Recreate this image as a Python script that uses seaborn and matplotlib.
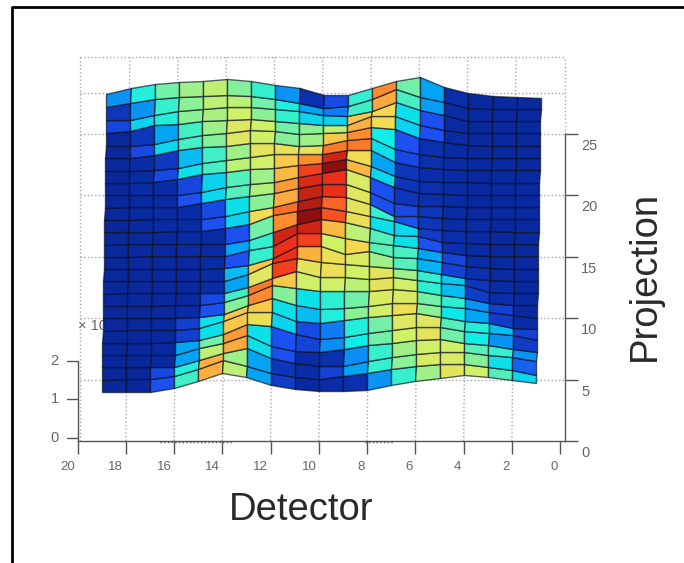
import numpy as np
import seaborn as sns
import matplotlib.pyplot as plt
from matplotlib.lines import Line2D
from matplotlib.transforms import ScaledTranslation

sns.set_style('white')
plt.rcParams['font.family'] = ['Liberation Sans', 'DejaVu Sans']

# cell values per detector column, bottom row (projection 5) to top
col_19 = [.05, .05, .05, .05, .05, .05, .05, .05, .05, .05, .05, .05, .05, .05, .05, .05, .05, .05, .05, .05, .05, .17, .12, .28]
col_18 = [.05, .05, .05, .05, .05, .05, .05, .05, .05, .05, .05, .06, .06, .06, .06, .06, .07, .07, .08, .18, .12, .36, .28, .42]
col_17 = [.2, .18, .06, .06, .06, .06, .06, .06, .06, .06, .06, .06, .06, .07, .07, .07, .07, .18, .13, .37, .3, .42, .44, .5]
col_16 = [.45, .42, .3, .3, .15, .15, .07, .06, .06, .06, .06, .07, .07, .07, .08, .2, .17, .38, .33, .46, .45, .53, .53, .55]
col_15 = [.75, .75, .58, .5, .38, .38, .2, .18, .08, .07, .07, .07, .07, .2, .18, .37, .36, .46, .45, .52, .55, .56, .58, .58]
col_14 = [.58, .55, .76, .78, .72, .72, .52, .45, .3, .33, .2, .3, .2, .36, .38, .47, .47, .58, .55, .63, .63, .6, .58, .52]
col_13 = [.3, .3, .38, .38, .67, .72, .8, .82, .63, .72, .44, .44, .5, .68, .53, .57, .55, .6, .65, .6, .6, .53, .5, .44]
col_12 = [.14, .12, .2, .2, .36, .38, .52, .72, .88, .9, .9, .93, .8, .83, .76, .78, .74, .72, .66, .52, .5, .44, .42, .28]
col_11 = [.06, .08, .08, .16, .18, .33, .38, .6, .65, .75, .88, .93, 1.0, .96, .94, .92, .88, .8, .66, .55, .53, .36, .3, .1]
col_10 = [.08, .16, .1, .27, .25, .42, .43, .6, .67, .67, .6, .74, .86, .84, .9, .9, 1.0, .93, .82, .72, .58, .36, .25, .18]
col_9 = [.1, .3, .27, .4, .42, .53, .5, .58, .6, .62, .7, .58, .67, .65, .64, .62, .74, .68, .82, .8, .75, .72, .45, .44]
col_8 = [.28, .44, .44, .5, .5, .6, .62, .65, .65, .55, .48, .47, .38, .44, .2, .2, .37, .3, .38, .4, .68, .7, .76, .8]
col_7 = [.44, .53, .55, .6, .63, .67, .62, .6, .55, .47, .46, .38, .37, .2, .18, .12, .12, .12, .18, .2, .36, .38, .46, .5]
col_6 = [.55, .62, .6, .65, .63, .53, .5, .43, .44, .32, .3, .2, .14, .12, .12, .1, .1, .09, .1, .1, .2, .2, .29, .3]
col_5 = [.65, .62, .6, .5, .47, .39, .43, .33, .35, .16, .17, .1, .09, .08, .07, .07, .07, .07, .07, .07, .07, .07, .08, .09]
col_4 = [.6, .52, .48, .4, .42, .3, .28, .14, .12, .1, .08, .07, .07, .07, .06, .06, .06, .06, .06, .06, .06, .06, .06, .06]
col_3 = [.47, .38, .44, .28, .33, .14, .16, .09, .08, .07, .06, .06, .06, .06, .06, .06, .06, .06, .06, .06, .06, .06, .06, .06]
col_2 = [.37, .22, .28, .14, .15, .08, .06, .06, .06, .06, .06, .06, .06, .06, .06, .06, .06, .06, .06, .06, .06, .06, .06, .06]

# heights of the top edge and of the left edge of the surface
top_edge = [.15, .37, .52, .6, .63, .7, .63, .48, .37, .11, .11, .37, .63, .78, .41, .19, .07, .04, 0]
left_edge = [.04, .04, .04, .04, .04, .04, .04, .04, .04, .04, .04, .04, .04, .04, .04, .04, .04, .04, .04, .05, .05, .08, .1, .12]

detectors = np.arange(19, 0, -1)
projections = np.arange(0, 25)
x_ticks = [20, 18, 16, 14, 12, 10, 8, 6, 4, 2, 0]
y_ticks = [0, 5, 10, 15, 20, 25]
z_ticks = [0, 1, 2]
grid_rows = [5, 10, 15, 20, 25, 28.3]

colors = ['#06208c', '#0a30ae', '#1c50f0', '#04a6f4', '#10eee8', '#70f0a8',
          '#d0f068', '#f8d850', '#fd8c30', '#f03018', '#8c1010']
cmap = sns.blend_palette(colors, as_cmap=True)

W, H = 684, 563
fig = plt.figure(figsize=(W / 100, H / 100), dpi=100)
ax = fig.add_axes([77.5 / W, 1 - 441 / H, (565 - 77.5) / W, (441 - 57) / H])
ax.set_xlim(20, -0.2)
ax.set_ylim(0, 31.27)

cells = np.array([col_19, col_18, col_17, col_16, col_15, col_14, col_13, col_12, col_11,
                  col_10, col_9, col_8, col_7, col_6, col_5, col_4, col_3, col_2]).T

# vertex height = value of the cell on its left, plus the edges
height = np.zeros((25, 19))
height[:24, 1:] = cells
height[:24, 0] = left_edge
height[24, :] = top_edge

# rough view of the tilted surface
det_grid, pro_grid = np.meshgrid(detectors, projections)
X = det_grid - 0.2 * pro_grid / 24
Y = 3.91 + pro_grid + 2.2 * height

grid_c = '#a8a8a8'
for d in x_ticks[1:-1]:
    ax.plot([d, d - 0.17], [0, 31.27], ls=':', lw=1, color=grid_c, zorder=1)
for p in grid_rows:
    ax.plot([19.9, -0.2], [p, p], ls=':', lw=1, color=grid_c, zorder=1)
ax.plot([19.9, -0.2], [31.27, 31.27], ls=':', lw=1, color=grid_c, zorder=1, clip_on=False)
ax.plot([19.9, 19.9], [0, 31.27], ls=':', lw=1, color=grid_c, zorder=1)
ax.plot([-0.2, -0.2], [25, 31.27], ls=':', lw=1, color=grid_c, zorder=1, clip_on=False)
ax.plot([16.6, 13.6], [-0.1, -0.1], ls=':', lw=1, color='#555555', clip_on=False)
ax.plot([8.1, 6.9], [-0.1, -0.1], ls=':', lw=1, color='#555555', clip_on=False)

ax.pcolormesh(X, Y, cells, cmap=cmap, vmin=0, vmax=1, edgecolors=(0.03, 0.05, 0.12, 0.65), linewidth=1.0,
              antialiased=True, shading='flat', zorder=3)

sns.despine(ax=ax, left=True, top=True, right=False, bottom=False)
for s in ['bottom', 'right']:
    ax.spines[s].set_color('#555555')
    ax.spines[s].set_linewidth(1)
ax.spines['right'].set_bounds(0, 25)

ax.yaxis.tick_right()
ax.tick_params(axis='both', length=9, width=1, color='#555555', labelcolor='#666666',
               bottom=True, right=True, left=False)
ax.tick_params(axis='x', labelsize=9.5, pad=5.5)
ax.tick_params(axis='y', labelsize=10.5, pad=2.5)
ax.set_xticks(x_ticks)
ax.set_xticklabels(x_ticks, ha='right')
ax.set_yticks(y_ticks)
ax.set_yticklabels(y_ticks, va='top')
shift_x = ScaledTranslation(-2.5 / 100, 0, fig.dpi_scale_trans)
shift_y = ScaledTranslation(0, -5 / 100, fig.dpi_scale_trans)
for t in ax.get_xticklabels():
    t.set_transform(t.get_transform() + shift_x)
for t in ax.get_yticklabels():
    t.set_transform(t.get_transform() + shift_y)

# vertical scale on the left
for z in z_ticks:
    p = 0.25 + 3.15 * z
    ax.plot([20, 20.45], [p, p], color='#555555', lw=1, clip_on=False, zorder=2)
    ax.text(20.95, p, str(z), color='#666666', fontsize=10.5, ha='center', va='center')
ax.plot([20, 20], [0, 0.25 + 3.15 * 2], color='#555555', lw=1, clip_on=False, zorder=2)
ax.text(19.98, 9.4, '\u00d7 10', color='#666666', fontsize=10.5, ha='left', va='center', zorder=2)

fig.text(301 / W, 1 - 510 / H, 'Detector', fontsize=27.5, color='#2a2a2a', ha='center', va='center')
fig.text(645 / W, 1 - 276 / H, 'Projection', fontsize=27.5, color='#2a2a2a', rotation=90, ha='center', va='center')

# frame left over from the slide
fig.add_artist(Line2D([12 / W, 12 / W, 1], [0, 1 - 7 / H, 1 - 7 / H], color='black', lw=2))

fig.savefig('out.png', dpi=100)
